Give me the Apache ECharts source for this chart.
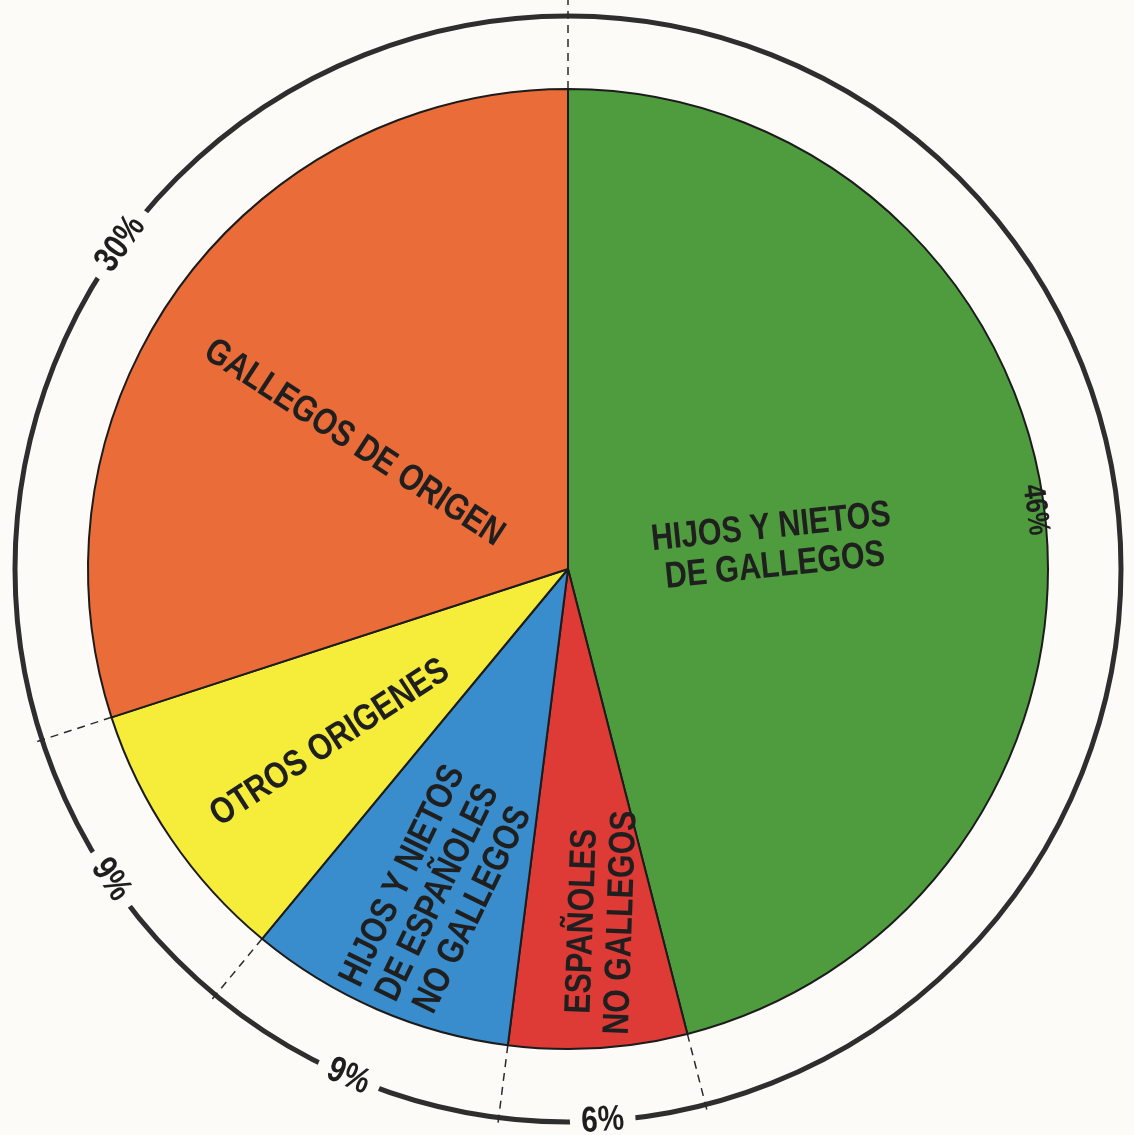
<!DOCTYPE html>
<html><head><meta charset="utf-8">
<script src="https://cdn.jsdelivr.net/npm/echarts@6/dist/echarts.min.js"></script>
<style>html,body{margin:0;padding:0;background:#fcfbf7;} #c{width:1134px;height:1135px;}</style>
</head><body><div id="c"></div>
<script>
// ---- data ----
const categories = ['HIJOS Y NIETOS\nDE GALLEGOS', 'ESPAÑOLES\nNO GALLEGOS', 'HIJOS Y NIETOS\nDE ESPAÑOLES\nNO GALLEGOS', 'OTROS ORIGENES', 'GALLEGOS DE ORIGEN'];
const values = [46, 6, 9, 9, 30];
const percentLabels = ['46%', '6%', '9%', '9%', '30%'];
// ---- styles ----
const palette = ['#4e9c3e', '#de3a36', '#3a8dcc', '#f6ed3a', '#e96c39'];
const BG = '#fcfbf7';
const FONT = '"Liberation Sans", Arial, sans-serif';
const CONDENSE = 0.82;
const CX = 568, CY = 569, R = 480, RING = 553;
// slice label placement (layout only): x, y, rotation in degrees
const sliceLabelPos = [[773, 547, 6], [602, 922, 88], [438, 893, 64], [330, 743, 33], [354, 443, -33]];

const total = values.reduce((a, b) => a + b, 0);
const bounds = []; let acc = 0;
values.forEach(v => { bounds.push(acc / total * 360); acc += v; });
const mids = values.map((v, i) => bounds[i] + v / total * 180);

function polar(r, deg) { const a = deg * Math.PI / 180; return [CX + r * Math.sin(a), CY - r * Math.cos(a)]; }
function tangentRot(deg) { let r = (deg > 90 && deg < 270) ? 180 - deg : -deg; if (r < -180) r += 360; return r; }

const chart = echarts.init(document.getElementById('c'), null, { renderer: 'canvas' });

const graphics = [];
// outer ring
graphics.push({ type: 'circle', silent: true, z: 1, shape: { cx: CX, cy: CY, r: RING }, style: { fill: null, stroke: '#2e2e2e', lineWidth: 5 } });
// dashed boundary lines
bounds.forEach(b => {
  const p1 = polar(R, b), p2 = polar(b === 0 ? RING + 20 : RING + 8, b);
  graphics.push({ type: 'line', silent: true, z: 2, shape: { x1: p1[0], y1: p1[1], x2: p2[0], y2: p2[1] }, style: { stroke: '#2a2a2a', lineWidth: 1.5, lineDash: [8, 6] } });
});
// percentage labels on the ring
percentLabels.forEach((t, i) => {
  const rr = i === 0 ? 471 : RING;
  const pt = polar(rr, mids[i]);
  graphics.push({
    type: 'text', silent: true, z: 100,
    x: pt[0], y: pt[1], rotation: tangentRot(mids[i]) * Math.PI / 180,
    scaleX: CONDENSE,
    style: {
      text: t, fill: '#1e1e1e', font: 'bold ' + (i === 0 ? 31 : 36) + 'px ' + FONT,
      align: 'center', verticalAlign: 'middle',
      backgroundColor: i === 0 ? null : BG, padding: [0, 14]
    }
  });
});
// slice labels
categories.forEach((t, i) => {
  const s = sliceLabelPos[i];
  graphics.push({
    type: 'text', silent: true, z: 100,
    x: s[0], y: s[1], rotation: s[2] * Math.PI / 180, scaleX: CONDENSE,
    style: {
      text: t, fill: '#1f1f1f', font: 'bold 37px ' + FONT, lineHeight: 39,
      align: 'center', verticalAlign: 'middle'
    }
  });
});

chart.setOption({
  backgroundColor: BG,
  animation: false,
  graphic: graphics,
  series: [
    {
      type: 'pie', silent: true, z: 3,
      center: [CX, CY], radius: [0, R],
      startAngle: 90, clockwise: true,
      itemStyle: { borderColor: '#1c1c1c', borderWidth: 2 },
      label: { show: false },
      labelLine: { show: false },
      data: values.map((v, i) => ({ value: v, name: categories[i].replace(/\n/g, ' '), itemStyle: { color: palette[i] } }))
    }
  ]
});
</script>
</body></html>
